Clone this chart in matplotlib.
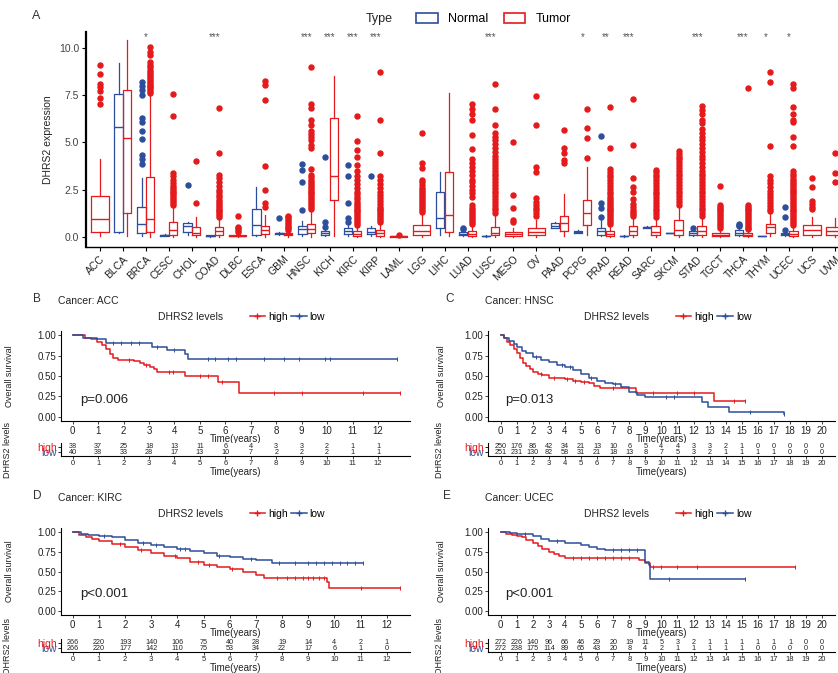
#DHRS2 pan-cancer expression + four KM survival panels

import numpy as np
import matplotlib
matplotlib.use('Agg')
import matplotlib.pyplot as plt
from matplotlib.lines import Line2D
from matplotlib.patches import Patch

plt.rcParams['font.family'] = ['Liberation Sans', 'DejaVu Sans']

RED = '#E41A1C'
BLUE = '#2D4E9C'
W, H = 838, 673

#---------------- panel A data ----------------
#box stats are [whisker low, q1, median, q3, whisker high]; None = no normal samples
cancers = ['ACC', 'BLCA', 'BRCA', 'CESC', 'CHOL', 'COAD', 'DLBC', 'ESCA', 'GBM', 'HNSC', 'KICH',
           'KIRC', 'KIRP', 'LAML', 'LGG', 'LIHC', 'LUAD', 'LUSC', 'MESO', 'OV', 'PAAD', 'PCPG',
           'PRAD', 'READ', 'SARC', 'SKCM', 'STAD', 'TGCT', 'THCA', 'THYM', 'UCEC', 'UCS', 'UVM']
signif = ['', '', '*', '', '', '***', '', '', '', '***', '***', '***', '***', '', '', '', '',
          '***', '', '', '', '*', '**', '***', '', '', '***', '', '***', '*', '*', '', '']

normal_box = [None, [0.2, 0.28, 5.8, 7.55, 9.2], [0.05, 0.19, 0.69, 1.57, 3.1],
              [0.05, 0.07, 0.1, 0.12, 0.15], [0.1, 0.28, 0.58, 0.72, 0.8],
              [0.02, 0.04, 0.06, 0.08, 0.12], None, [0.05, 0.1, 0.63, 1.46, 2.66],
              [0.12, 0.15, 0.2, 0.22, 0.25], [0.05, 0.15, 0.4, 0.6, 0.85],
              [0.05, 0.12, 0.2, 0.3, 0.45], [0.05, 0.15, 0.3, 0.45, 0.7],
              [0.05, 0.15, 0.25, 0.45, 0.6], None, None, [0.1, 0.49, 1.02, 2.4, 3.45],
              [0.05, 0.1, 0.15, 0.25, 0.35], [0.02, 0.04, 0.05, 0.07, 0.1], None, None,
              [0.45, 0.5, 0.6, 0.72, 0.8], [0.2, 0.22, 0.28, 0.33, 0.36],
              [0.05, 0.1, 0.3, 0.5, 0.9], [0.02, 0.03, 0.05, 0.07, 0.1],
              [0.45, 0.47, 0.51, 0.55, 0.6], [0.23, 0.23, 0.23, 0.23, 0.23],
              [0.05, 0.1, 0.2, 0.3, 0.4], None, [0.05, 0.1, 0.2, 0.35, 0.5],
              [0.03, 0.04, 0.05, 0.06, 0.07], [0.05, 0.1, 0.15, 0.2, 0.3], None, None]
normal_out = [[], [], [3.85, 4.1, 4.35, 5.2, 5.6, 6.1, 6.3, 7.5, 7.75, 8.0, 8.2], [], [2.73], [],
              [], [], [0.98], [1.45, 2.92, 3.55, 3.85], [0.55, 0.8, 4.25],
              [0.8, 0.98, 1.78, 3.2, 3.8], [3.2], [], [], [], [0.4, 0.45], [], [], [], [], [],
              [1.06, 1.51, 1.78, 5.35], [], [], [], [0.46], [], [0.6, 0.63, 0.7], [],
              [0.37, 1.06, 1.6], [], []]

tumor_box = [[0.05, 0.28, 0.95, 2.17, 4.1], [0.05, 1.25, 5.22, 7.78, 10.4],
             [0.02, 0.24, 0.93, 3.16, 7.5], [0.02, 0.1, 0.37, 0.81, 1.6],
             [0.02, 0.1, 0.2, 0.51, 1.06], [0.02, 0.1, 0.3, 0.55, 1.0],
             [0.01, 0.03, 0.05, 0.08, 0.15], [0.02, 0.16, 0.37, 0.58, 1.16],
             [0.02, 0.1, 0.15, 0.2, 0.3], [0.02, 0.19, 0.41, 0.69, 1.4],
             [0.05, 1.96, 3.2, 6.28, 8.48], [0.01, 0.05, 0.15, 0.3, 0.6],
             [0.01, 0.05, 0.2, 0.35, 0.7], [0.01, 0.02, 0.04, 0.06, 0.1],
             [0.02, 0.1, 0.32, 0.63, 1.2], [0.05, 0.28, 1.16, 3.45, 7.6],
             [0.01, 0.05, 0.15, 0.3, 0.6], [0.02, 0.1, 0.2, 0.55, 1.2],
             [0.02, 0.05, 0.15, 0.28, 0.5], [0.02, 0.1, 0.28, 0.46, 0.9],
             [0.05, 0.33, 0.72, 1.11, 2.28], [0.1, 0.63, 1.25, 1.93, 3.72],
             [0.01, 0.05, 0.15, 0.3, 0.6], [0.02, 0.1, 0.3, 0.58, 1.0],
             [0.02, 0.1, 0.25, 0.58, 1.0], [0.02, 0.1, 0.37, 0.9, 1.6],
             [0.02, 0.1, 0.3, 0.58, 1.0], [0.01, 0.05, 0.12, 0.23, 0.45],
             [0.01, 0.05, 0.1, 0.2, 0.35], [0.05, 0.23, 0.51, 0.69, 1.25],
             [0.01, 0.05, 0.15, 0.3, 0.6], [0.02, 0.1, 0.37, 0.63, 1.06],
             [0.02, 0.1, 0.3, 0.55, 1.0]]
tumor_out = [
    [7.05, 7.35, 7.7, 7.9, 8.1, 8.6, 9.1],
    [],
    [7.6, 7.7, 7.8, 7.9, 8.0, 8.1, 8.2, 8.3, 8.4, 8.5, 8.6, 8.7, 8.8, 9.0, 9.1, 9.25, 9.6, 9.75, 10.05],
    [1.7, 1.8, 1.9, 2.0, 2.1, 2.2, 2.3, 2.4, 2.5, 2.6, 2.7, 2.85, 3.0, 3.2, 3.4, 6.4, 7.55],
    [1.82, 4.04],
    [1.05, 1.15, 1.25, 1.35, 1.45, 1.55, 1.65, 1.75, 1.85, 1.95, 2.1, 2.2, 2.35, 2.5, 2.7, 2.9,
     3.1, 3.3, 4.43, 6.8],
    [0.25, 0.37, 0.45, 0.55, 1.12],
    [1.6, 1.8, 2.48, 3.75, 7.25, 8.05, 8.22],
    [0.35, 0.45, 0.55, 0.65, 0.75, 0.85, 0.95, 1.05, 1.12],
    [1.5, 1.6, 1.7, 1.8, 1.9, 2.0, 2.1, 2.2, 2.3, 2.4, 2.5, 2.6, 2.7, 2.8, 2.9, 3.0, 3.15, 3.3,
     3.6, 4.7, 4.85, 5.1, 5.3, 5.45, 5.6, 5.9, 6.2, 6.8, 7.05, 9.0],
    [],
    [0.65, 0.75, 0.85, 0.95, 1.05, 1.15, 1.25, 1.35, 1.45, 1.55, 1.65, 1.75, 1.85, 2.0, 2.1,
     2.25, 2.4, 2.6, 2.8, 3.0, 3.2, 3.5, 3.8, 4.25, 4.6, 5.05, 6.4],
    [0.8, 0.9, 1.0, 1.1, 1.2, 1.3, 1.4, 1.5, 1.6, 1.75, 1.9, 2.05, 2.2, 2.4, 2.6, 2.8, 3.0, 3.2,
     4.43, 6.2, 8.7],
    [0.13],
    [1.3, 1.45, 1.55, 1.65, 1.75, 1.85, 1.95, 2.05, 2.15, 2.25, 2.35, 2.5, 2.6, 2.75, 2.9, 3.0,
     3.65, 3.9, 5.49],
    [],
    [0.7, 0.8, 0.9, 1.0, 1.1, 1.2, 1.3, 1.4, 1.55, 1.7, 2.1, 2.3, 2.5, 2.7, 2.9, 3.0, 3.3, 3.5,
     3.7, 3.9, 4.1, 4.65, 5.4, 6.2, 6.5, 6.75, 7.05],
    [1.25, 1.4, 1.55, 1.7, 1.85, 2.0, 2.15, 2.3, 2.45, 2.6, 2.75, 2.9, 3.05, 3.2, 3.35, 3.5, 3.65,
     3.8, 3.95, 4.1, 4.3, 4.5, 4.7, 4.9, 5.1, 5.3, 5.5, 5.93, 6.77, 8.1],
    [0.8, 0.9, 1.51, 2.22, 5.04],
    [1.1, 1.25, 1.4, 1.55, 1.7, 1.85, 2.05, 3.45, 3.72, 5.9, 7.46],
    [3.9, 4.07, 4.43, 4.69, 5.66],
    [4.16, 5.22, 5.75, 6.78],
    [0.7, 0.8, 0.9, 1.0, 1.1, 1.2, 1.3, 1.4, 1.5, 1.6, 1.7, 1.8, 1.9, 2.0, 2.1, 2.25, 2.4, 2.55,
     2.7, 2.85, 3.0, 3.15, 3.3, 3.45, 3.6, 4.69, 6.86],
    [1.1, 1.2, 1.3, 1.45, 1.6, 1.75, 2.0, 2.4, 2.66, 3.1, 4.87, 7.28],
    [1.05, 1.2, 1.35, 1.5, 1.65, 1.8, 1.95, 2.1, 2.25, 2.4, 2.55, 2.7, 2.85, 3.0, 3.15, 3.3,
     3.45, 3.55],
    [1.7, 1.85, 2.0, 2.15, 2.3, 2.45, 2.6, 2.75, 2.9, 3.05, 3.2, 3.35, 3.5, 3.65, 3.8, 3.95, 4.1,
     4.25, 4.4, 4.55],
    [1.1, 1.25, 1.4, 1.55, 1.7, 1.85, 2.0, 2.15, 2.3, 2.45, 2.6, 2.75, 2.9, 3.05, 3.2, 3.35, 3.5,
     3.7, 3.9, 4.1, 4.3, 4.5, 4.7, 4.9, 5.1, 5.3, 5.5, 5.7, 6.0, 6.2, 6.5, 6.7, 6.9],
    [0.5, 0.6, 0.7, 0.8, 0.9, 1.0, 1.1, 1.2, 1.3, 1.4, 1.5, 1.6, 1.7, 2.7],
    [0.4, 0.5, 0.6, 0.7, 0.8, 0.9, 1.0, 1.1, 1.2, 1.3, 1.4, 1.5, 1.6, 1.7, 7.87],
    [1.35, 1.5, 1.65, 1.8, 1.95, 2.1, 2.25, 2.45, 2.65, 2.85, 3.0, 3.2, 4.8, 8.2, 8.7],
    [0.65, 0.75, 0.85, 0.95, 1.05, 1.15, 1.25, 1.35, 1.45, 1.55, 1.65, 1.75, 1.85, 1.95, 2.05,
     2.15, 2.25, 2.35, 2.45, 2.55, 2.65, 2.75, 2.85, 2.95, 3.05, 3.2, 3.35, 3.5, 4.8, 5.3, 6.1,
     6.2, 6.5, 6.86, 7.87, 8.1],
    [1.5, 1.6, 1.75, 1.9, 2.66, 3.1],
    [2.93, 3.37, 4.43],
]

#---------------- KM data (times in years, survival after each step) ----------------
acc_high_t = [0, 0.5, 0.7, 0.95, 1.15, 1.3, 1.45, 1.6, 1.8, 2.4, 2.65, 2.8, 3.05, 3.2, 3.3, 4.4, 5.7, 6.55]
acc_high_s = [1.0, 0.97, 0.95, 0.92, 0.88, 0.83, 0.77, 0.72, 0.69, 0.68, 0.66, 0.63, 0.61, 0.58, 0.55, 0.50, 0.43, 0.29]
acc_high_end = 12.85
acc_high_cens = [2.2, 2.9, 3.8, 3.95, 5.0, 5.3, 5.85, 7.9, 9.0, 11.4, 12.85]
acc_low_t = [0, 0.4, 0.95, 1.3, 3.1, 3.7, 4.4, 4.55]
acc_low_s = [1.0, 0.97, 0.95, 0.90, 0.86, 0.82, 0.77, 0.71]
acc_low_end = 12.75
acc_low_cens = [1.6, 1.9, 2.3, 2.6, 3.3, 4.0, 5.3, 5.6, 6.1, 6.4, 7.5, 8.3, 8.9, 9.9, 10.1, 12.75]
acc_risk_high = [38, 37, 25, 18, 13, 11, 6, 4, 3, 3, 2, 1, 1]
acc_risk_low = [40, 38, 33, 28, 17, 13, 10, 7, 2, 2, 2, 1, 1]

hnsc_high_t = [0, 0.2, 0.4, 0.6, 0.8, 1.0, 1.2, 1.4, 1.6, 1.8, 2.0, 2.3, 2.6, 3.0, 3.5, 4.0, 4.5, 5.0, 5.5, 5.8, 6.2, 8.4, 13.3]
hnsc_high_s = [1.0, 0.96, 0.92, 0.88, 0.83, 0.78, 0.72, 0.66, 0.62, 0.58, 0.55, 0.53, 0.51, 0.48, 0.47, 0.46, 0.44, 0.43, 0.42, 0.38, 0.35, 0.29, 0.20]
hnsc_high_end = 15.2
hnsc_high_cens = [2.5, 3.3, 4.1, 4.6, 5.2, 7.0, 9.5, 11.0, 12.0, 14.5, 15.2]
hnsc_low_t = [0, 0.2, 0.5, 0.8, 1.0, 1.3, 1.6, 2.0, 2.5, 3.0, 3.5, 4.0, 4.5, 5.0, 5.5, 6.0, 6.5, 7.0, 7.5, 8.0, 8.5, 9.0, 12.5, 12.9, 14.2, 17.6]
hnsc_low_s = [1.0, 0.97, 0.93, 0.89, 0.85, 0.81, 0.78, 0.73, 0.70, 0.67, 0.64, 0.61, 0.57, 0.53, 0.48, 0.44, 0.42, 0.40, 0.36, 0.30, 0.27, 0.24, 0.18, 0.12, 0.06, 0.03]
hnsc_low_end = 17.6
hnsc_low_cens = [2.2, 3.8, 4.3, 5.6, 7.1, 10.3, 10.8, 15.5, 17.6]
hnsc_risk_high = [250, 176, 86, 42, 34, 21, 13, 10, 6, 5, 4, 4, 3, 3, 2, 1, 0, 0, 0, 0, 0]
hnsc_risk_low = [251, 231, 130, 82, 58, 31, 21, 18, 13, 8, 7, 5, 3, 2, 1, 1, 1, 1, 0, 0, 0]

kirc_high_t = [0, 0.25, 0.5, 0.75, 1.0, 1.5, 2.0, 2.5, 3.0, 3.5, 4.0, 4.5, 5.0, 5.5, 6.0, 6.5, 7.0, 7.3, 9.7, 9.8]
kirc_high_s = [1.0, 0.96, 0.93, 0.91, 0.89, 0.85, 0.81, 0.77, 0.73, 0.70, 0.67, 0.62, 0.58, 0.56, 0.53, 0.49, 0.46, 0.42, 0.37, 0.29]
kirc_high_end = 12.5
kirc_high_cens = [1.8, 2.6, 3.9, 4.8, 5.2, 6.1, 7.8, 8.2, 8.5, 8.8, 9.0, 9.2, 9.4, 9.6, 11.0, 12.5]
kirc_low_t = [0, 0.3, 0.6, 1.0, 1.5, 2.0, 2.5, 3.0, 3.5, 4.0, 4.5, 5.0, 5.5, 6.0, 6.5, 7.0, 7.6]
kirc_low_s = [1.0, 0.98, 0.96, 0.95, 0.93, 0.90, 0.86, 0.83, 0.81, 0.79, 0.76, 0.73, 0.70, 0.68, 0.66, 0.64, 0.61]
kirc_low_end = 11.1
kirc_low_cens = [1.2, 2.7, 3.2, 4.1, 4.3, 5.6, 6.8, 7.9, 8.5, 9.0, 9.3, 9.6, 9.9, 10.2, 10.5, 10.8, 11.1]
kirc_risk_high = [266, 220, 193, 140, 106, 75, 40, 28, 19, 14, 4, 2, 1]
kirc_risk_low = [266, 220, 177, 142, 110, 75, 53, 34, 22, 17, 6, 1, 0]

ucec_high_t = [0, 0.3, 0.7, 1.0, 1.3, 1.6, 2.0, 2.3, 2.6, 3.0, 3.3, 3.6, 4.0, 8.6, 9.0, 9.3]
ucec_high_s = [1.0, 0.98, 0.96, 0.95, 0.93, 0.90, 0.86, 0.82, 0.79, 0.75, 0.72, 0.70, 0.67, 0.64, 0.61, 0.56]
ucec_high_end = 18.3
ucec_high_cens = [4.5, 5.0, 5.5, 6.0, 6.5, 7.0, 7.5, 8.0, 9.5, 10.0, 11.0, 12.2, 18.3]
ucec_low_t = [0, 0.6, 1.0, 2.0, 2.5, 3.0, 4.0, 5.0, 5.5, 6.0, 6.5, 9.0, 9.2, 9.3]
ucec_low_s = [1.0, 0.99, 0.98, 0.95, 0.91, 0.89, 0.86, 0.83, 0.81, 0.79, 0.77, 0.62, 0.58, 0.41]
ucec_low_end = 15.2
ucec_low_cens = [1.5, 3.5, 7.0, 7.5, 8.0, 8.5, 10.5, 15.2]
ucec_risk_high = [272, 226, 140, 96, 66, 46, 29, 20, 19, 11, 5, 3, 2, 1, 1, 1, 1, 1, 1, 0, 0]
ucec_risk_low = [272, 238, 175, 114, 89, 65, 43, 20, 8, 4, 2, 1, 1, 1, 1, 1, 0, 0, 0, 0, 0]


fig = plt.figure(figsize=(W / 100, H / 100), dpi=100)


def px_ax(l, t, r, b):
    #axes from pixel box (left, top, right, bottom)
    return fig.add_axes([l / W, 1 - b / H, (r - l) / W, (b - t) / H])


def px_text(x, y, s, **kw):
    fig.text(x / W, 1 - y / H, s, **kw)


def box_stats(b, out):
    return dict(whislo=b[0], q1=b[1], med=b[2], q3=b[3], whishi=b[4], fliers=out)


def draw_boxes(ax, stats, pos, width, col):
    ax.bxp(stats, positions=pos, widths=width, showcaps=False, manage_ticks=False,
           boxprops=dict(color=col, lw=0.9), medianprops=dict(color=col, lw=1.0),
           whiskerprops=dict(color=col, lw=0.9),
           flierprops=dict(marker='o', markersize=3.6, markerfacecolor=col,
                           markeredgecolor=col, lw=0))


#---------------- panel A ----------------
axA = px_ax(86, 32, 838, 247)
n_st, n_pos, t_st, t_pos, t_wid = [], [], [], [], []
for i in range(len(cancers)):
    if normal_box[i] is None:
        t_pos.append(i)
        t_wid.append(0.75)
    else:
        n_st.append(box_stats(normal_box[i], normal_out[i]))
        n_pos.append(i - 0.19)
        t_pos.append(i + 0.19)
        t_wid.append(0.36)
    t_st.append(box_stats(tumor_box[i], tumor_out[i]))
draw_boxes(axA, n_st, n_pos, 0.36, BLUE)
draw_boxes(axA, t_st, t_pos, t_wid, RED)

for i, s in enumerate(signif):
    if s:
        axA.text(i, 10.55, s, ha='center', va='center', fontsize=7, color='#555555')

axA.set_xlim(-0.61, 32.13)
axA.set_ylim(-0.53, 10.83)
axA.set_xticks(range(len(cancers)))
axA.set_xticklabels(cancers, rotation=45, ha='right', va='top', rotation_mode='anchor',
                    fontsize=7.5, color='#222222')
axA.set_yticks([0, 2.5, 5, 7.5, 10])
axA.set_yticklabels(['0.0', '2.5', '5.0', '7.5', '10.0'], fontsize=7.5, color='#444444')
axA.tick_params(length=3, width=0.8, pad=2)
for sp in ['top', 'right']:
    axA.spines[sp].set_visible(False)
axA.spines['left'].set_linewidth(1.6)
axA.spines['bottom'].set_linewidth(1.0)
axA.set_ylabel('DHRS2 expression', fontsize=7.5, color='#222222', labelpad=4)

px_text(32, 16, 'A', fontsize=9, color='#333333', va='center')
px_text(366, 19, 'Type', fontsize=9, color='#222222', va='center')
legA = fig.legend([Patch(facecolor='white', edgecolor=BLUE, lw=1.2),
                   Patch(facecolor='white', edgecolor=RED, lw=1.2)], ['Normal', 'Tumor'],
                  loc='center left', bbox_to_anchor=(405 / W, 1 - 19 / H), ncol=2,
                  frameon=False, fontsize=9, handlelength=1.7, handleheight=0.9,
                  columnspacing=1.3, handletextpad=0.8)


#---------------- KM panels ----------------
def km_panel(letter, cancer, lx, box, tbox, x0, pxyr, tmax, curves, risk_high, risk_low, pval):
    l, t, r, b = box
    xl = ((l - x0) / pxyr, (r - x0) / pxyr)
    ax = px_ax(l, t, r, b)
    for tt, ss, end, cens, col in curves:
        ax.step(tt + [end], ss + [ss[-1]], where='post', color=col, lw=1.1)
        idx = np.searchsorted(tt, cens, side='right') - 1
        ax.plot(cens, np.array(ss)[idx], ls='none', marker='|', ms=3.5, mew=0.7, color=col)
    ax.text(0.3, 0.21, pval, fontsize=9.5, color='#222222', va='center')
    ax.set_xlim(*xl)
    ax.set_ylim(-0.05, 1.05)
    ax.set_xticks(range(tmax + 1))
    ax.set_yticks([0, 0.25, 0.5, 0.75, 1.0])
    ax.set_yticklabels(['0.00', '0.25', '0.50', '0.75', '1.00'])
    ax.tick_params(labelsize=7, length=2.5, width=0.6, pad=1, colors='#222222')
    ax.set_xlabel('Time(years)', fontsize=7, labelpad=-1.5, color='#222222')
    for sp in ['top', 'right']:
        ax.spines[sp].set_visible(False)
    for sp in ['left', 'bottom']:
        ax.spines[sp].set_linewidth(0.8)

    #risk table
    tl, tt_, tr, tb = tbox
    tab = px_ax(tl, tt_, tr, tb)
    for k in range(tmax + 1):
        tab.text(k, 1, str(risk_high[k]), ha='center', va='center', fontsize=5.2, color='#222222')
        tab.text(k, 0, str(risk_low[k]), ha='center', va='center', fontsize=5.2, color='#222222')
    tab.set_xlim(*xl)
    tab.set_ylim(-0.8, 1.8)
    tab.set_xticks(range(tmax + 1))
    tab.set_yticks([0, 1])
    tab.set_yticklabels(['low', 'high'])
    tab.get_yticklabels()[0].set_color(BLUE)
    tab.get_yticklabels()[1].set_color(RED)
    tab.tick_params(axis='y', labelsize=7.5, length=2, width=0.6, pad=1)
    tab.tick_params(axis='x', labelsize=5.5, length=2, width=0.6, pad=1, colors='#222222')
    tab.set_xlabel('Time(years)', fontsize=7, labelpad=0, color='#222222')
    for sp in ['top', 'right']:
        tab.spines[sp].set_visible(False)
    for sp in ['left', 'bottom']:
        tab.spines[sp].set_linewidth(0.8)

    #labels and legend
    px_text(lx[0], t - 32, letter, fontsize=8.5, color='#333333', va='center')
    px_text(l - 3, t - 30, 'Cancer: ' + cancer, fontsize=7.5, color='#222222', va='center')
    px_text(lx[1], (t + b) / 2, 'Overall survival', rotation=90, fontsize=6.5,
            color='#222222', ha='center', va='center')
    px_text(lx[1] - 2, (tt_ + tb) / 2, 'DHRS2 levels', rotation=90, fontsize=6.5,
            color='#222222', ha='center', va='center')
    cx = (l + r) / 2
    px_text(cx - 78, t - 14, 'DHRS2 levels', fontsize=7.5, color='#222222', va='center')
    fig.legend([Line2D([], [], color=RED, lw=1.1, marker='+', ms=5),
                Line2D([], [], color=BLUE, lw=1.1, marker='+', ms=5)], ['high', 'low'],
               loc='center left', bbox_to_anchor=((cx + 14) / W, 1 - (t - 14) / H), ncol=2,
               frameon=False, fontsize=7.5, handlelength=1.5, columnspacing=0.3,
               handletextpad=0.3, borderaxespad=0, borderpad=0)


km_panel('B', 'ACC', (33, 10), (61, 331, 410, 421), (61, 443, 410, 456), 72.7, 25.44, 12,
         [(acc_high_t, acc_high_s, acc_high_end, acc_high_cens, RED),
          (acc_low_t, acc_low_s, acc_low_end, acc_low_cens, BLUE)],
         acc_risk_high, acc_risk_low, 'p=0.006')
km_panel('C', 'HNSC', (445, 441), (488, 331, 835, 421), (488, 443, 835, 456), 500.7, 16.07, 20,
         [(hnsc_high_t, hnsc_high_s, hnsc_high_end, hnsc_high_cens, RED),
          (hnsc_low_t, hnsc_low_s, hnsc_low_end, hnsc_low_cens, BLUE)],
         hnsc_risk_high, hnsc_risk_low, 'p=0.013')
km_panel('D', 'KIRC', (33, 10), (61, 528, 410, 615), (61, 639, 410, 652), 72.7, 26.17, 12,
         [(kirc_high_t, kirc_high_s, kirc_high_end, kirc_high_cens, RED),
          (kirc_low_t, kirc_low_s, kirc_low_end, kirc_low_cens, BLUE)],
         kirc_risk_high, kirc_risk_low, 'p<0.001')
km_panel('E', 'UCEC', (443, 441), (488, 528, 835, 615), (488, 639, 835, 652), 500.7, 16.07, 20,
         [(ucec_high_t, ucec_high_s, ucec_high_end, ucec_high_cens, RED),
          (ucec_low_t, ucec_low_s, ucec_low_end, ucec_low_cens, BLUE)],
         ucec_risk_high, ucec_risk_low, 'p<0.001')

fig.savefig('out.png', dpi=100)
